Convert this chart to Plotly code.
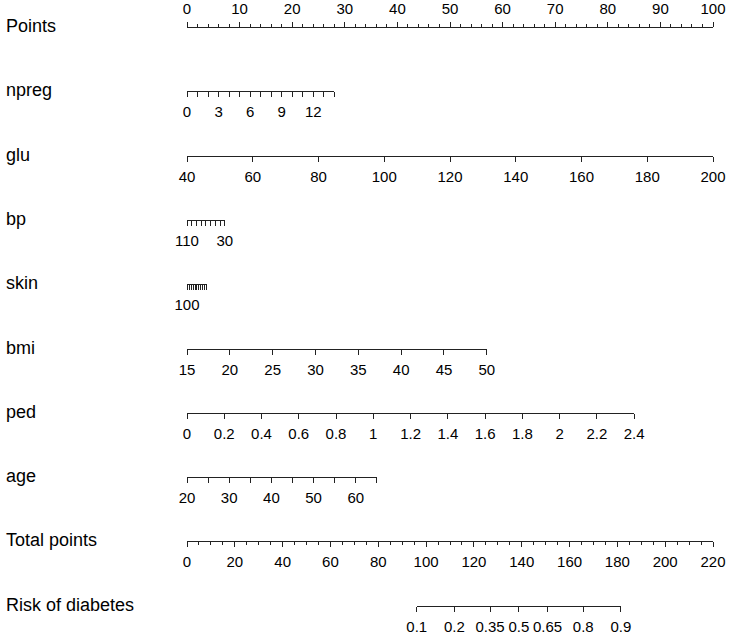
import numpy as np
import plotly.graph_objects as go

# ---------------------------------------------------------
# Données du nomogramme
# ---------------------------------------------------------
points_vals = list(range(0, 101, 10))
points_minor = [v for v in range(0, 101, 2) if v % 10]

npreg_vals = list(range(0, 15))
npreg_text = ["0", "", "", "3", "", "", "6", "", "", "9", "", "", "12", "", ""]
npreg_pts = [0, 28]

glu_vals = list(range(40, 201, 20))
glu_text = [str(v) for v in glu_vals]
glu_pts = [0, 100]

bp_vals = list(range(110, 29, -10))
bp_text = ["110", "", "", "", "", "", "", "", "30"]
bp_pts = [0, 7.2]

skin_vals = list(range(100, -1, -10))
skin_text = ["100"] + [""] * 10
skin_pts = [0, 3.8]

bmi_vals = list(range(15, 51, 5))
bmi_text = [str(v) for v in bmi_vals]
bmi_pts = [0, 57]

ped_vals = [0, 0.2, 0.4, 0.6, 0.8, 1, 1.2, 1.4, 1.6, 1.8, 2, 2.2, 2.4]
ped_text = ["0", "0.2", "0.4", "0.6", "0.8", "1", "1.2", "1.4", "1.6", "1.8", "2", "2.2", "2.4"]
ped_pts = [0, 85]

age_vals = list(range(20, 66, 5))
age_text = ["20", "", "30", "", "40", "", "50", "", "60", ""]
age_pts = [0, 36.1]

total_vals = list(range(0, 221, 20))
total_minor = [v for v in range(0, 221, 5) if v % 20]
total_max = 220

risk_vals = [0.1, 0.2, 0.35, 0.5, 0.65, 0.8, 0.9]
risk_text = ["0.1", "0.2", "0.35", "0.5", "0.65", "0.8", "0.9"]
lp_intercept = -7.141   # prédicteur linéaire = a + b * points totaux
lp_slope = 0.05145

# ---------------------------------------------------------
# Mise en page
# ---------------------------------------------------------
W, H = 729, 636
x0, x1 = 187 / W, 713 / W          # étendue de l'échelle 0-100 points
font = dict(family="Liberation Sans, Arial, sans-serif", size=15, color="black")
lab_font = dict(family="Liberation Sans, Arial, sans-serif", size=18, color="black")


def yfrac(ypx):
    return 1 - ypx / H


def dom(pts, scale=100):
    return [x0 + (x1 - x0) * pts[0] / scale, x0 + (x1 - x0) * pts[1] / scale]


# points totaux correspondant aux probabilités
risk_total = [(np.log(p / (1 - p)) - lp_intercept) / lp_slope for p in risk_vals]

rows = [
    dict(name="Points", vals=points_vals, text=[str(v) for v in points_vals],
         rng=[0, 100], domain=[x0, x1], minor=points_minor, side="top"),
    dict(name="npreg", vals=npreg_vals, text=npreg_text,
         rng=[npreg_vals[0], npreg_vals[-1]], domain=dom(npreg_pts)),
    dict(name="glu", vals=glu_vals, text=glu_text,
         rng=[glu_vals[0], glu_vals[-1]], domain=dom(glu_pts)),
    dict(name="bp", vals=bp_vals, text=bp_text,
         rng=[bp_vals[0], bp_vals[-1]], domain=dom(bp_pts)),
    dict(name="skin", vals=skin_vals, text=skin_text,
         rng=[skin_vals[0], skin_vals[-1]], domain=dom(skin_pts)),
    dict(name="bmi", vals=bmi_vals, text=bmi_text,
         rng=[bmi_vals[0], bmi_vals[-1]], domain=dom(bmi_pts)),
    dict(name="ped", vals=ped_vals, text=ped_text,
         rng=[ped_vals[0], ped_vals[-1]], domain=dom(ped_pts)),
    dict(name="age", vals=age_vals, text=age_text,
         rng=[age_vals[0], age_vals[-1]], domain=dom(age_pts)),
    dict(name="Total points", vals=total_vals, text=[str(v) for v in total_vals],
         rng=[0, total_max], domain=[x0, x1], minor=total_minor),
    dict(name="Risk of diabetes", vals=risk_total, text=risk_text,
         rng=[risk_total[0], risk_total[-1]],
         domain=dom([risk_total[0], risk_total[-1]], total_max)),
]

fig = go.Figure()
layout = dict(
    width=W, height=H,
    margin=dict(l=0, r=0, t=0, b=0, pad=0),
    paper_bgcolor="white", plot_bgcolor="rgba(0,0,0,0)",
    showlegend=False,
    yaxis=dict(range=[0, 1], domain=[0, 1], visible=False, fixedrange=True, automargin=False),
)
annotations = []

for i, r in enumerate(rows):
    ypx = 27 + 64.3 * i
    key = "xaxis" if i == 0 else f"xaxis{i + 1}"
    ref = "x" if i == 0 else f"x{i + 1}"
    ax = dict(
        domain=r["domain"], range=r["rng"], anchor="free", position=yfrac(ypx),
        side=r.get("side", "bottom"), automargin=False,
        showline=True, linecolor="#222", linewidth=1,
        showgrid=False, zeroline=False,
        ticks="outside", ticklen=5, tickwidth=1, tickcolor="#222",
        tickmode="array", tickvals=r["vals"], ticktext=r["text"],
        tickfont=font, ticklabelstandoff=2, fixedrange=True,
    )
    if "minor" in r:
        ax["minor"] = dict(tickvals=r["minor"], ticks="outside", ticklen=3,
                           tickwidth=1, tickcolor="#222", showgrid=False)
    layout[key] = ax
    fig.add_trace(go.Scatter(x=r["vals"], y=[None] * len(r["vals"]), xaxis=ref, yaxis="y",
                             mode="markers", hoverinfo="skip"))
    annotations.append(dict(text=r["name"], x=4 / W, y=yfrac(ypx - 1),
                            xref="paper", yref="paper",
                            xanchor="left", yanchor="middle", showarrow=False, font=lab_font))

layout["annotations"] = annotations
fig.update_layout(**layout)

# la page HTML ajoute une marge de 8 px autour de la figure : on la supprime
fig.write_html("out.html", config={"displayModeBar": False},
               post_script="document.body.style.margin='0';")
